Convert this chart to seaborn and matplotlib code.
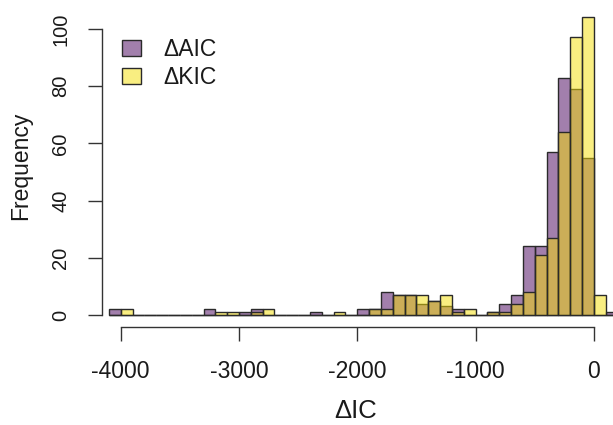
import matplotlib
matplotlib.use("Agg")
import matplotlib.pyplot as plt
from matplotlib.patches import Patch
import pandas as pd
import seaborn as sns

# histogram bins, width 100, lower edges from -4100 to 100
bin_edges = list(range(-4100, 201, 100))
bin_mid = [b + 50 for b in bin_edges[:-1]]

aic_counts = [2, 0, 0, 0, 0, 0, 0, 0,
              2, 0, 0, 1, 2, 0,
              0, 0, 0,
              1, 0, 0, 0,
              2, 2, 8, 7, 7, 4, 5, 3, 2, 0, 0,
              1, 4, 7, 24, 24, 57, 83, 79, 55, 0, 1]
kic_counts = [0, 2, 0, 0, 0, 0, 0, 0,
              0, 1, 1, 0, 1, 2,
              0, 0, 0,
              0, 0, 1, 0,
              0, 2, 2, 7, 7, 7, 5, 7, 1, 2, 0,
              1, 1, 4, 8, 21, 27, 64, 97, 104, 7, 0]

labels = ["\u0394AIC", "\u0394KIC"]
x_ticks = [-4000, -3000, -2000, -1000, 0]
y_ticks = [0, 20, 40, 60, 80, 100]

purple = (70 / 255, 0.0, 90 / 255, 0.5)
yellow = (245 / 255, 222 / 255, 5 / 255, 0.5)
edge = "#2a2a2a"
ink = "#1a1a1a"

sns.set_style("white")
plt.rcParams["font.family"] = ["Liberation Sans", "DejaVu Sans"]
plt.rcParams["text.color"] = ink
plt.rcParams["axes.labelcolor"] = ink

fig = plt.figure(figsize=(6.13, 4.25), dpi=100)
ax = fig.add_axes([102 / 613, 98 / 425, 511 / 613, 321.3 / 425])

for counts, col in [(aic_counts, purple), (kic_counts, yellow)]:
    df = pd.DataFrame({"mid": bin_mid, "n": counts})
    n0 = len(ax.patches)
    sns.histplot(data=df, x="mid", weights="n", bins=bin_edges, ax=ax,
                 color=col[:3], linewidth=1.0)
    for p in ax.patches[n0:]:
        p.set_alpha(None)
        p.set_facecolor(col)
        p.set_edgecolor(edge)
        p.set_linewidth(1.0)

ax.set_xlim(-4158, 161.5)
ax.set_ylim(-4.2, 108.1)

for s in ["top", "right"]:
    ax.spines[s].set_visible(False)
ax.spines["left"].set_bounds(0, 100)
ax.spines["bottom"].set_bounds(-4000, 0)
for s in ["left", "bottom"]:
    ax.spines[s].set_color("#333333")
    ax.spines[s].set_linewidth(1.0)

ax.set_xticks(x_ticks)
ax.set_xticklabels([str(v) for v in x_ticks])
ax.set_yticks(y_ticks)
ax.set_yticklabels([str(v) for v in y_ticks], rotation=90, va="center")
ax.tick_params(axis="both", direction="out", length=10, width=1.0,
               color="#333333", labelcolor=ink, left=True, bottom=True)
ax.tick_params(axis="x", pad=14, labelsize=16.5)
ax.tick_params(axis="y", pad=13, labelsize=14.5)

ax.set_xlabel("\u0394IC", fontsize=18.5, va="center")
ax.xaxis.set_label_coords(0.497, -0.262)
ax.set_ylabel("Frequency", fontsize=16.5, va="center")
ax.yaxis.set_label_coords(-0.160, 0.501)

handles = [Patch(facecolor=purple, edgecolor=edge, linewidth=1.0),
           Patch(facecolor=yellow, edgecolor=edge, linewidth=1.0)]
fig.legend(handles, labels, loc="upper left", frameon=False,
           bbox_to_anchor=(122 / 613, (425 - 38) / 425),
           borderpad=0, borderaxespad=0, fontsize=16.5,
           handlelength=0.85, handleheight=0.7, handletextpad=0.95,
           labelspacing=0.22)

fig.savefig("out.png", dpi=100)
